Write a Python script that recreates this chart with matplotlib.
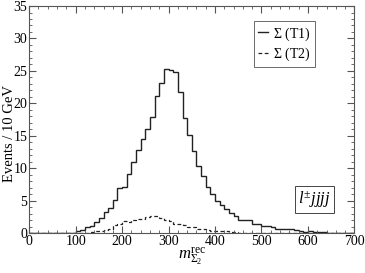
#!/usr/bin/env python3

import numpy as np
import matplotlib
matplotlib.use("Agg")
import matplotlib.pyplot as plt
from matplotlib.ticker import MultipleLocator

plt.rcParams['font.family'] = ['Liberation Serif', 'DejaVu Serif']
plt.rcParams['mathtext.fontset'] = 'custom'
plt.rcParams['mathtext.rm'] = 'Liberation Serif'
plt.rcParams['mathtext.it'] = 'Liberation Serif:italic'

# bin edges in GeV, 10 GeV bins
edges = np.arange(0, 710, 10)

t1 = [0, 0, 0, 0, 0, 0, 0, 0, 0, 0.1,
      0.3, 0.5, 0.9, 1.1, 1.7, 2.4, 3.3, 3.9, 5.1, 7.0,
      7.1, 9.1, 11.0, 12.8, 14.5, 16.1, 17.9, 21.1, 23.2, 25.3,
      25.1, 24.8, 21.8, 17.8, 15.1, 12.7, 10.3, 8.8, 7.2, 6.0,
      5.0, 4.4, 3.7, 3.2, 2.7, 2.1, 2.0, 2.0, 1.5, 1.4,
      1.1, 1.1, 1.0, 0.7, 0.6, 0.6, 0.6, 0.5, 0.3, 0.2,
      0.3, 0.2, 0.2, 0.2, 0.1, 0.1, 0.1, 0.1, 0.1, 0.1]

t2 = [0, 0, 0, 0, 0, 0, 0, 0, 0, 0,
      0, 0, 0.1, 0.2, 0.3, 0.4, 0.5, 0.7, 1.3, 1.5,
      1.9, 1.7, 2.0, 2.2, 2.2, 2.5, 2.6, 2.7, 2.3, 2.0,
      1.9, 1.5, 1.4, 1.3, 1.0, 0.9, 0.7, 0.6, 0.5, 0.4,
      0.4, 0.3, 0.3, 0.2, 0.2, 0.1, 0.1, 0.1, 0.1, 0.1,
      0.1, 0.1, 0.1, 0.1, 0.1, 0.1, 0.1, 0.1, 0.1, 0.1,
      0.1, 0.1, 0.1, 0.1, 0.1, 0.1, 0.1, 0.1, 0.1, 0.1]

labels = [r'$\Sigma$ (T1)', r'$\Sigma$ (T2)']

fig = plt.figure(figsize=(3.65, 2.73), dpi=100)
ax = fig.add_axes([0.080, 0.1454, 0.891, 0.8326])

ax.stairs(t1, edges, color='#222222', lw=1.0, ls='-', baseline=None, label=labels[0])
ax.stairs(t2, edges, color='#222222', lw=0.9, ls=(0, (3, 2)), baseline=None, label=labels[1])

ax.set_xlim(0, 700)
ax.set_ylim(0, 35)
ax.xaxis.set_major_locator(MultipleLocator(100))
ax.xaxis.set_minor_locator(MultipleLocator(20))
ax.yaxis.set_major_locator(MultipleLocator(5))
ax.yaxis.set_minor_locator(MultipleLocator(1))
ax.tick_params(which='both', direction='in', top=True, right=True,
               labelsize=10, color='#555555', pad=1.5)
ax.tick_params(which='major', length=5)
ax.tick_params(which='minor', length=2.5)
for s in ax.spines.values():
    s.set_color('#555555')
    s.set_linewidth(0.8)

ax.set_ylabel('Events / 10 GeV', fontsize=10.5)
ax.yaxis.set_label_coords(-0.042, 0.437)
ax.set_xlabel(r'$m^{\mathrm{rec}}_{\Sigma_2}$', fontsize=12, labelpad=-2)

leg = ax.legend(loc='upper right', bbox_to_anchor=(0.879, 0.934), fontsize=10,
                frameon=True, fancybox=False, handlelength=0.7, handletextpad=0.4,
                borderpad=0.3, labelspacing=0.2, borderaxespad=0)
leg.get_frame().set_edgecolor('#444444')
leg.get_frame().set_linewidth(0.7)

ax.text(0.928, 0.149, r'$l^{\pm}jjjj$', transform=ax.transAxes, ha='right', va='center',
        fontsize=12, bbox=dict(boxstyle='square,pad=0.2', fc='white', ec='#444444', lw=0.7))

fig.savefig('out.png', dpi=100)
